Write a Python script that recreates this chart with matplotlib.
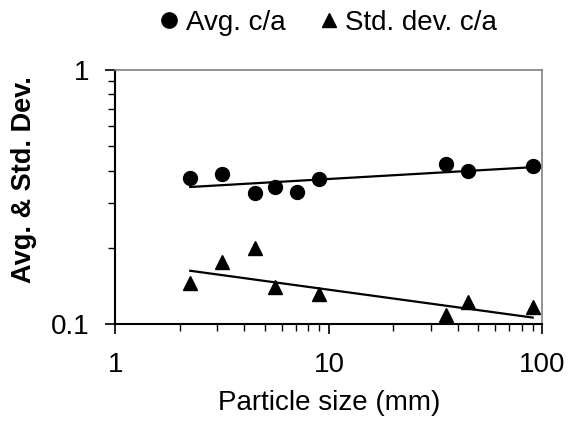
import matplotlib
matplotlib.use("Agg")
import matplotlib.pyplot as plt
from matplotlib.ticker import LogLocator, NullFormatter, FixedLocator, FixedFormatter
import matplotlib.lines as mlines

plt.rcParams['font.family'] = ['Liberation Sans', 'DejaVu Sans']

# Data
size_avg = [2.24, 3.15, 4.5, 5.6, 7.1, 9.0, 35.5, 45.0, 90.0]
avg_ca = [0.377, 0.388, 0.327, 0.345, 0.332, 0.372, 0.428, 0.401, 0.417]
size_std = [2.24, 3.15, 4.5, 5.6, 9.0, 35.5, 45.0, 90.0]
std_ca = [0.1455, 0.176, 0.200, 0.140, 0.131, 0.1085, 0.1217, 0.117]
trend_x = [2.24, 90.0]
avg_trend = [0.346, 0.414]
std_trend = [0.162, 0.106]

FS = 20

fig = plt.figure(figsize=(5.68, 4.33), dpi=100)
ax = fig.add_axes([0.2033, 0.2517, 0.7518, 0.587])

ax.plot(trend_x, avg_trend, color='black', lw=1.6, zorder=2)
ax.plot(trend_x, std_trend, color='black', lw=1.6, zorder=2)
ax.plot(size_avg, avg_ca, 'o', color='black', ms=10, zorder=3)
ax.plot(size_std, std_ca, '^', color='black', ms=10, zorder=3)

ax.set_xscale('log')
ax.set_yscale('log')
ax.set_xlim(1, 100)
ax.set_ylim(0.1, 1)

ax.xaxis.set_major_locator(FixedLocator([1, 10, 100]))
ax.xaxis.set_major_formatter(FixedFormatter(['1', '10', '100']))
ax.xaxis.set_minor_locator(LogLocator(base=10, subs=range(2, 10)))
ax.xaxis.set_minor_formatter(NullFormatter())
ax.yaxis.set_major_locator(FixedLocator([0.1, 1]))
ax.yaxis.set_major_formatter(FixedFormatter(['0.1', '1']))
ax.yaxis.set_minor_locator(LogLocator(base=10, subs=range(2, 10)))
ax.yaxis.set_minor_formatter(NullFormatter())

ax.tick_params(which='major', direction='out', length=7, width=1.2, labelsize=FS, color='black')
ax.tick_params(which='minor', direction='out', length=5, width=1.0, color='black')
ax.tick_params(axis='x', which='major', pad=13)
ax.tick_params(axis='y', which='major', pad=12)

for s in ['top', 'right']:
    ax.spines[s].set_color('#808080')
    ax.spines[s].set_linewidth(1.2)
for s in ['left', 'bottom']:
    ax.spines[s].set_color('black')
    ax.spines[s].set_linewidth(1.5)

ax.set_xlabel('Particle size (mm)', fontsize=FS, labelpad=9)
ax.set_ylabel('Avg. & Std. Dev.', fontsize=FS - 0.5, fontweight='bold')
ax.yaxis.set_label_coords(-0.214, 0.57)
ax.yaxis.label.set_va('center')

h1 = mlines.Line2D([], [], color='black', marker='o', ls='none', ms=11)
h2 = mlines.Line2D([], [], color='black', marker='^', ls='none', ms=10)
fig.legend([h1, h2], ['Avg. c/a', 'Std. dev. c/a'], loc='center', bbox_to_anchor=(329 / 568, 1 - 23 / 433),
           ncol=2, frameon=False, fontsize=FS, handlelength=0.6, handletextpad=0.3,
           columnspacing=1.25, borderpad=0, borderaxespad=0)

fig.savefig('out.png', dpi=100)
